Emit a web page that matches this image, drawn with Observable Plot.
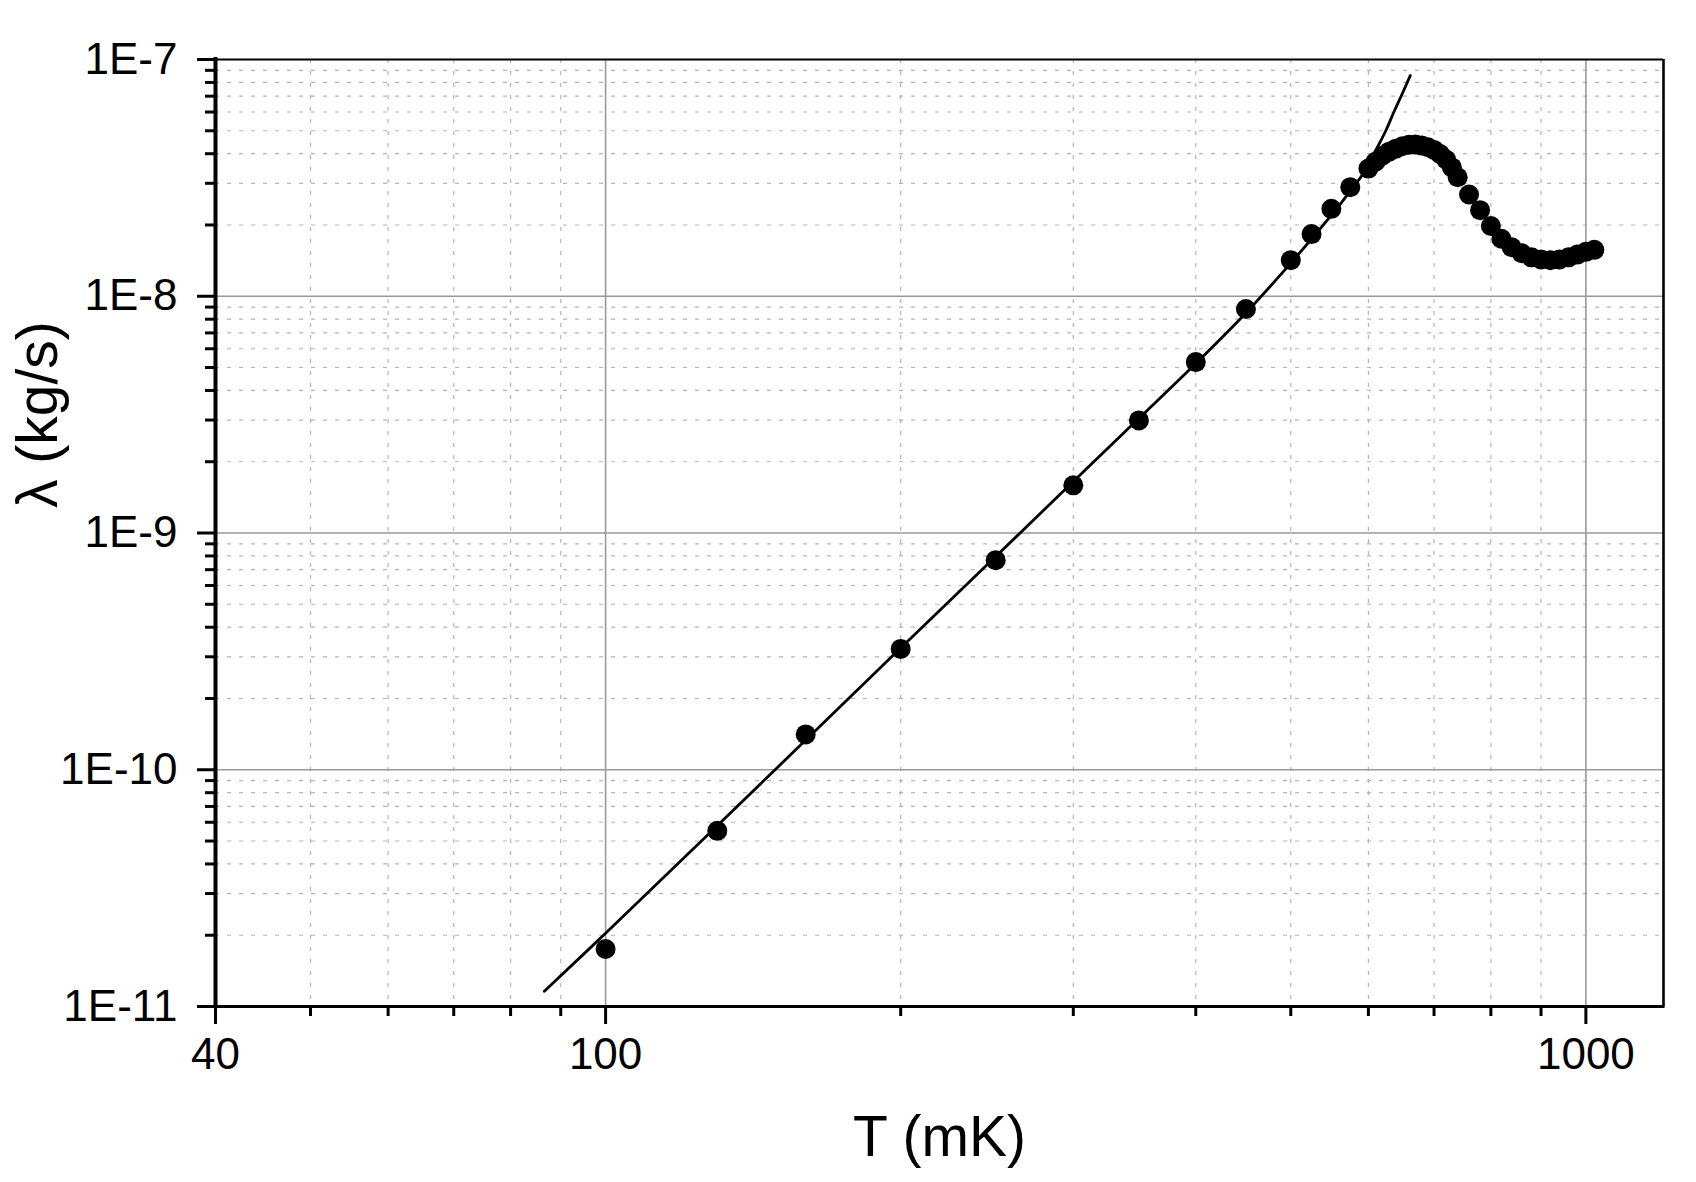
<!DOCTYPE html>
<html>
<head>
<meta charset="utf-8">
<script src="https://cdn.jsdelivr.net/npm/d3@7"></script>
<script src="https://cdn.jsdelivr.net/npm/@observablehq/plot@0.6"></script>
<style>
  body { margin: 0; background: #fff; }
  svg { font-family: "Liberation Sans", Arial, Helvetica, sans-serif; }
</style>
</head>
<body>
<div id="chart"></div>
<script>
// Measured points: temperature (mK) and lambda (kg/s)
const temperatures = [100, 130, 160, 200, 250, 300, 350, 400, 450, 500, 525, 550, 575,
  600, 610, 620, 630, 640, 650, 660, 670, 680, 690, 700, 710, 720, 730, 740, 760, 780, 800,
  820, 840, 860, 880, 900, 920, 940, 960, 980, 1000, 1020];
const lambdas = [1.75e-11, 5.52e-11, 1.41e-10, 3.24e-10, 7.68e-10, 1.59e-9, 2.99e-9, 5.27e-9,
  8.83e-9, 1.42e-8, 1.83e-8, 2.34e-8, 2.89e-8,
  3.46e-8, 3.7e-8, 3.92e-8, 4.08e-8, 4.2e-8, 4.3e-8, 4.36e-8, 4.37e-8, 4.33e-8, 4.26e-8,
  4.15e-8, 3.99e-8, 3.78e-8, 3.5e-8, 3.18e-8, 2.69e-8, 2.31e-8, 1.98e-8,
  1.75e-8, 1.61e-8, 1.52e-8, 1.46e-8, 1.43e-8, 1.42e-8, 1.43e-8, 1.46e-8, 1.50e-8,
  1.54e-8, 1.57e-8];

// Fit curve
const fitT = [86.6, 100, 150, 200, 250, 300, 350, 400, 450, 500, 550, 575, 600, 610, 625, 637, 650, 662];
const fitLambda = [1.16e-11, 2.04e-11, 1.03e-10, 3.27e-10, 7.95e-10, 1.65e-9, 3.05e-9, 5.2e-9,
  8.5e-9, 1.38e-8, 2.2e-8, 2.78e-8, 3.55e-8, 4.1e-8, 5.0e-8, 6.0e-8, 7.2e-8, 8.55e-8];

// Axes
const xMajorTicks = [40, 100, 1000];
const xTickLabels = ["40", "100", "1000"];
const xMinorTicks = [50, 60, 70, 80, 90, 200, 300, 400, 500, 600, 700, 800, 900];
const xGridMajor = [100, 1000];
const yMajorTicks = [1e-11, 1e-10, 1e-9, 1e-8, 1e-7];
const yTickLabels = ["1E-11", "1E-10", "1E-9", "1E-8", "1E-7"];
const yMinorTicks = [
  2e-11, 3e-11, 4e-11, 5e-11, 6e-11, 7e-11, 8e-11, 9e-11,
  2e-10, 3e-10, 4e-10, 5e-10, 6e-10, 7e-10, 8e-10, 9e-10,
  2e-9, 3e-9, 4e-9, 5e-9, 6e-9, 7e-9, 8e-9, 9e-9,
  2e-8, 3e-8, 4e-8, 5e-8, 6e-8, 7e-8, 8e-8, 9e-8];
const yGridMajor = [1e-10, 1e-9, 1e-8];
const xTitle = "T (mK)";
const yTitle = "λ (kg/s)";

const points = temperatures.map((t, i) => ({T: t, lambda: lambdas[i]}));
const fit = fitT.map((t, i) => ({T: t, lambda: fitLambda[i]}));

const chart = Plot.plot({
  width: 1696,
  height: 1182,
  marginLeft: 215,
  marginRight: 33,
  marginTop: 59,
  marginBottom: 176,
  style: {background: "#fff", color: "#000", fontFamily: "'Liberation Sans', Arial, Helvetica, sans-serif"},
  x: {type: "log", domain: [40, 1200], axis: null, label: null},
  y: {type: "log", domain: [1e-11, 1e-7], axis: null, label: null},
  marks: [
    Plot.ruleX(xMinorTicks, {stroke: "#b4b4b4", strokeWidth: 1.2, strokeDasharray: "4,8"}),
    Plot.ruleY(yMinorTicks, {stroke: "#b4b4b4", strokeWidth: 1.2, strokeDasharray: "4,8"}),
    Plot.ruleX(xGridMajor, {stroke: "#999", strokeWidth: 1.6}),
    Plot.ruleY(yGridMajor, {stroke: "#999", strokeWidth: 1.6}),
    Plot.line(fit, {x: "T", y: "lambda", stroke: "#000", strokeWidth: 2.8, curve: "catmull-rom"}),
    Plot.dot(points, {x: "T", y: "lambda", r: 10, fill: "#000", stroke: "none"}),
    Plot.ruleY([1e-7], {stroke: "#000", strokeWidth: 2}),
    Plot.ruleX([1200], {stroke: "#000", strokeWidth: 2.6}),
    Plot.ruleY([1e-11], {stroke: "#000", strokeWidth: 3.2, strokeLinecap: "square"}),
    Plot.ruleX([40], {stroke: "#000", strokeWidth: 4, strokeLinecap: "square"}),
    Plot.axisX(xMinorTicks, {anchor: "bottom", tickSize: 10, strokeWidth: 3, tickFormat: () => "", label: null}),
    Plot.axisX(xMajorTicks, {anchor: "bottom", tickSize: 18, tickPadding: 13, strokeWidth: 3,
      tickFormat: d => xTickLabels[xMajorTicks.indexOf(d)], fontSize: 44, label: null}),
    Plot.axisY(yMinorTicks, {anchor: "left", tickSize: 10, strokeWidth: 3, tickFormat: () => "", label: null}),
    Plot.axisY(yMajorTicks, {anchor: "left", tickSize: 18, tickPadding: 20, strokeWidth: 3,
      tickFormat: d => yTickLabels[yMajorTicks.indexOf(d)], fontSize: 44, label: null}),
    Plot.text([xTitle], {frameAnchor: "bottom", text: d => d, dy: 149, lineAnchor: "bottom", fontSize: 57}),
    Plot.text([yTitle], {frameAnchor: "left", text: d => d, rotate: -90, dx: -159, dy: -25, lineAnchor: "bottom", fontSize: 57})
  ]
});
document.getElementById("chart").appendChild(chart);
</script>
</body>
</html>
